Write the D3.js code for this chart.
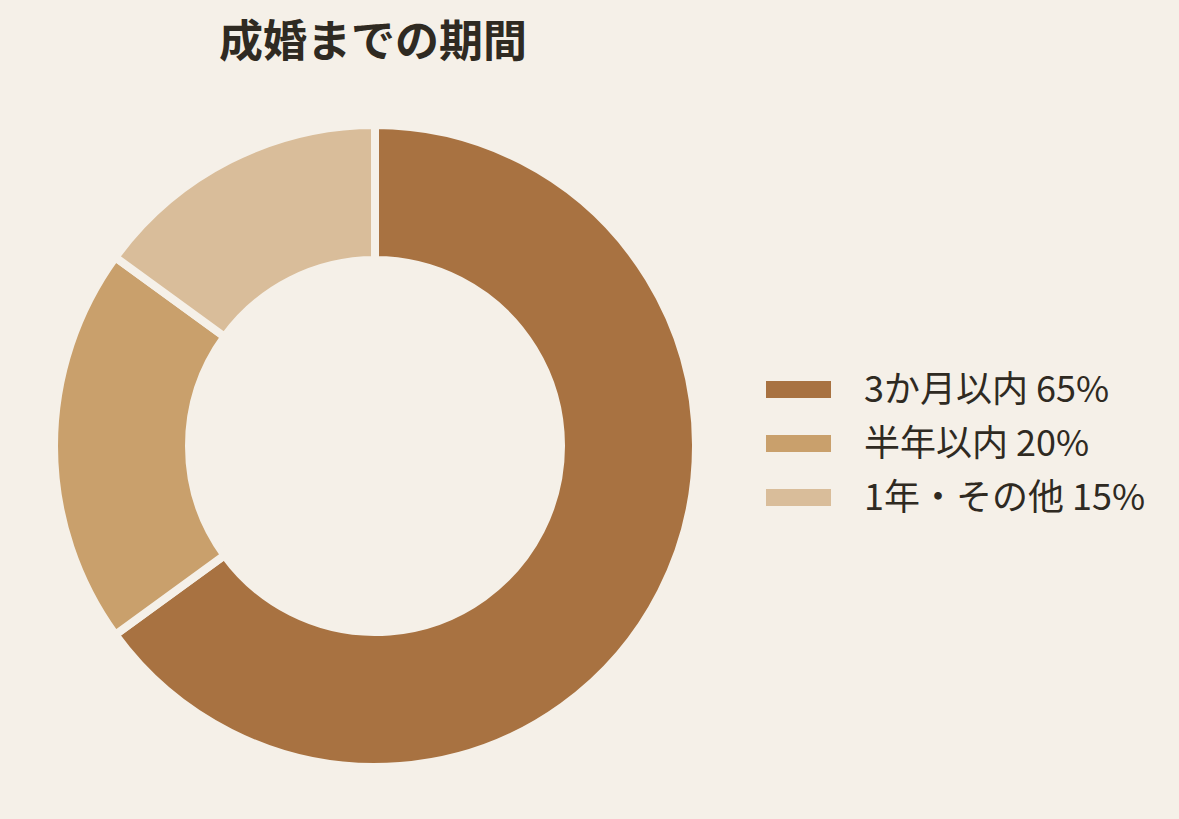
<!doctype html>
<html>
<head>
  <meta charset="utf8"/>
  <style>
    body { margin: 0; background: #f5f0e8; }
    svg { display: block; font-family: "Noto Sans CJK JP", sans-serif; }
  </style>
</head>
<body>
  <svg width="1179" height="819"></svg>
  <script src="https://d3js.org/d3.v7.min.js"></script>
  <script>
    var labels = ['3か月以内 65%', '半年以内 20%', '1年・その他 15%'];
    var values = [65, 20, 15];
    var colors = ['#a87241', '#c9a06c', '#d9bd9a'];

    var svg = d3.select('svg'),
        bg = '#f5f0e8',
        cx = 375, cy = 446,
        outer = 321, inner = 186;

    svg.append('rect')
      .attr('width', 1179).attr('height', 819)
      .attr('fill', bg);

    svg.append('text')
      .attr('x', 373).attr('y', 57)
      .attr('text-anchor', 'middle')
      .attr('font-size', 44)
      .attr('font-weight', 'bold')
      .attr('fill', '#2f2a22')
      .text('成婚までの期間');

    var pie = d3.pie().sort(null).value(function(d) { return d; });
    var arc = d3.arc().innerRadius(inner).outerRadius(outer);

    var g = svg.append('g')
      .attr('transform', 'translate(' + cx + ',' + cy + ')');

    // slices separated by a background-coloured edge
    g.selectAll('path')
      .data(pie(values))
      .enter().append('path')
        .attr('d', arc)
        .attr('fill', function(d, i) { return colors[i]; })
        .attr('stroke', bg)
        .attr('stroke-width', 8);

    var legend = svg.append('g')
      .attr('transform', 'translate(766,381)');

    var item = legend.selectAll('g')
      .data(labels)
      .enter().append('g')
        .attr('transform', function(d, i) { return 'translate(0,' + (i * 54) + ')'; });

    item.append('rect')
      .attr('width', 65).attr('height', 17)
      .attr('fill', function(d, i) { return colors[i]; });

    item.append('text')
      .attr('x', 98).attr('y', 8.5)
      .attr('dy', '0.36em')
      .attr('font-size', 36)
      .attr('fill', '#2f2a22')
      .text(function(d) { return d; });
  </script>
</body>
</html>
